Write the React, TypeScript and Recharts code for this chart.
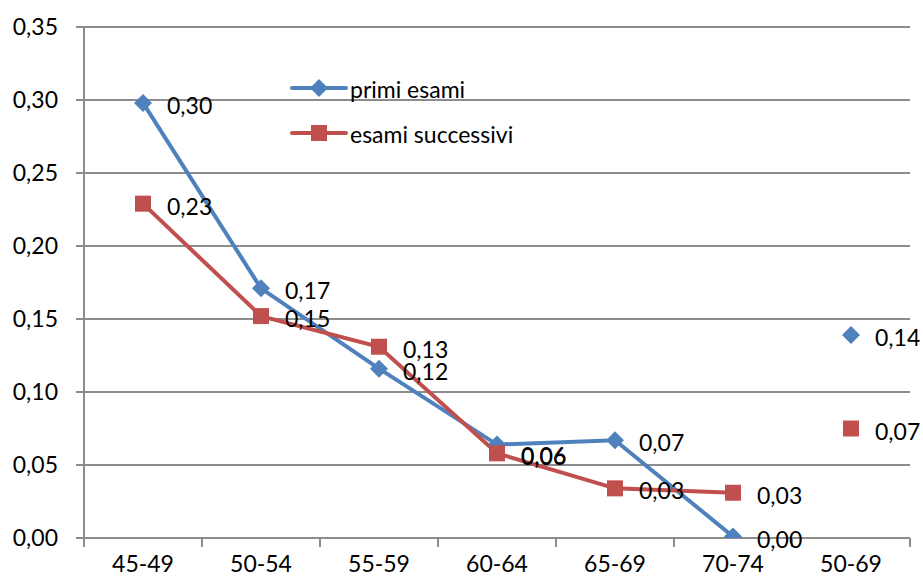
import React from 'react';
import { LineChart, Line, XAxis, YAxis, CartesianGrid, LabelList } from 'recharts';

const categories = ['45-49', '50-54', '55-59', '60-64', '65-69', '70-74', '50-69'];
// ultimo punto (50-69) separato dalla linea
const primiEsami = [0.298, 0.171, 0.116, 0.064, 0.067, 0.001, null];
const primiEsamiTot = [null, null, null, null, null, null, 0.139];
const esamiSuccessivi = [0.229, 0.152, 0.131, 0.058, 0.034, 0.031, null];
const esamiSuccessiviTot = [null, null, null, null, null, null, 0.075];
const yTicks = [0, 0.05, 0.1, 0.15, 0.2, 0.25, 0.3, 0.35];

const BLUE = '#4F81BD';
const RED = '#C0504D';
const GRID = '#8C8C8C';
const FONT = 'Lato, "Open Sans", sans-serif';

const PLOT_LEFT = 84;
const PLOT_RIGHT = 910;
const BAND = (PLOT_RIGHT - PLOT_LEFT) / categories.length;

const data = categories.map((c, i) => ({
  cat: c,
  primi: primiEsami[i],
  primiTot: primiEsamiTot[i],
  succ: esamiSuccessivi[i],
  succTot: esamiSuccessiviTot[i],
}));

const fmt = (v: number) => v.toFixed(2).replace('.', ',');

const Diamond = (props: any) => {
  const { cx, cy, value } = props;
  if (value == null || cx == null) return null;
  const r = 9;
  return <path d={`M${cx},${cy - r}L${cx + r},${cy}L${cx},${cy + r}L${cx - r},${cy}Z`} fill={BLUE} />;
};

const Square = (props: any) => {
  const { cx, cy, value } = props;
  if (value == null || cx == null) return null;
  const s = 8;
  return <rect x={cx - s} y={cy - s} width={s * 2} height={s * 2} fill={RED} />;
};

// etichetta a destra del punto; dy per spostare quelle sovrapposte come in Excel
const makeLabel = (nudge: Record<number, number> = {}) => (props: any) => {
  const { x, y, value, index } = props;
  if (value == null) return null;
  const dy = nudge[index] ?? 0;
  return (
    <text x={x + 24} y={y + 2 + dy} dominantBaseline="central" fontSize={23} fontFamily={FONT} fill="#000">
      {fmt(value)}
    </text>
  );
};

const XTick = (props: any) => {
  const { x, y, payload, index } = props;
  return (
    <g>
      <line x1={x - BAND / 2} y1={y - 8} x2={x - BAND / 2} y2={y + 1} stroke={GRID} strokeWidth={2} />
      {index === categories.length - 1 && (
        <line x1={x + BAND / 2} y1={y - 8} x2={x + BAND / 2} y2={y + 1} stroke={GRID} strokeWidth={2} />
      )}
      <text x={x} y={y + 26} textAnchor="middle" fontSize={23} fontFamily={FONT} fill="#000">
        {payload.value}
      </text>
    </g>
  );
};

const App = () => {
  return (
    <div style={{ position: 'absolute', left: 0, top: 0, width: 923, height: 583, background: '#fff' }}>
      <LineChart width={923} height={583} data={data} margin={{ top: 27, right: 13, bottom: 0, left: 0 }}>
        <CartesianGrid horizontal vertical={false} stroke={GRID} strokeWidth={2} />
        <XAxis
          dataKey="cat"
          stroke={GRID}
          strokeWidth={2}
          tickLine={false}
          tick={<XTick />}
          height={45}
          interval={0}
          padding={{ left: BAND / 2, right: BAND / 2 }}
        />
        <YAxis
          domain={[0, 0.35]}
          ticks={yTicks}
          tickFormatter={fmt}
          width={84}
          stroke={GRID}
          strokeWidth={2}
          tickSize={8}
          tickLine={{ stroke: GRID, strokeWidth: 2 }}
          tick={{ fontSize: 23, fontFamily: FONT, fill: '#000' }}
          tickMargin={18}
          allowDataOverflow
        />
        <Line dataKey="primi" stroke={BLUE} strokeWidth={4} dot={<Diamond />} activeDot={false} isAnimationActive={false}>
          <LabelList dataKey="primi" content={makeLabel({ 3: 9 })} />
        </Line>
        <Line dataKey="succ" stroke={RED} strokeWidth={4} dot={<Square />} activeDot={false} isAnimationActive={false}>
          <LabelList dataKey="succ" content={makeLabel()} />
        </Line>
        <Line dataKey="primiTot" stroke="none" dot={<Diamond />} activeDot={false} isAnimationActive={false}>
          <LabelList dataKey="primiTot" content={makeLabel()} />
        </Line>
        <Line dataKey="succTot" stroke="none" dot={<Square />} activeDot={false} isAnimationActive={false}>
          <LabelList dataKey="succTot" content={makeLabel()} />
        </Line>
        {/* legenda interna */}
        <g>
          <line x1={292} y1={88} x2={346} y2={88} stroke={BLUE} strokeWidth={4} strokeLinecap="round" />
          <Diamond cx={319} cy={88} value={1} />
          <text x={350} y={89} dominantBaseline="central" fontSize={23} fontFamily={FONT} fill="#000">primi esami</text>
          <line x1={292} y1={133} x2={346} y2={133} stroke={RED} strokeWidth={4} strokeLinecap="round" />
          <Square cx={319} cy={133} value={1} />
          <text x={350} y={134} dominantBaseline="central" fontSize={23} fontFamily={FONT} fill="#000">esami successivi</text>
        </g>
      </LineChart>
    </div>
  );
};

export default App;
